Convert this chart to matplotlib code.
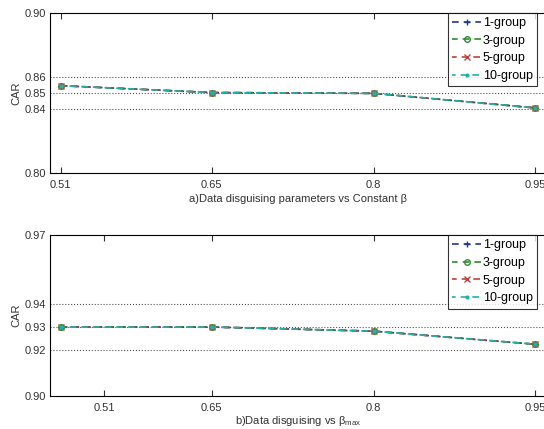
import matplotlib
matplotlib.use("Agg")
import matplotlib.pyplot as plt

plt.rcParams['font.family'] = ['Liberation Sans', 'DejaVu Sans']
plt.rcParams['mathtext.fontset'] = 'custom'
plt.rcParams['mathtext.rm'] = 'Liberation Sans'
plt.rcParams['mathtext.it'] = 'Liberation Sans'

x_vals = [0.51, 0.65, 0.8, 0.95]
groups = ['1-group', '3-group', '5-group', '10-group']
colors = ['#25358c', '#2f8a2f', '#c0403c', '#1fb3a8']
markers = ['+', 'o', 'x', '.']

# panel a: data disguising parameters vs constant beta
car_a = {
    '1-group': [0.8545, 0.8502, 0.8497, 0.8406],
    '3-group': [0.8545, 0.8502, 0.8497, 0.8406],
    '5-group': [0.8545, 0.8502, 0.8497, 0.8406],
    '10-group': [0.8545, 0.8502, 0.8497, 0.8406],
}
# panel b: data disguising vs beta_max
car_b = {
    '1-group': [0.930, 0.930, 0.9282, 0.9225],
    '3-group': [0.930, 0.930, 0.9282, 0.9225],
    '5-group': [0.930, 0.930, 0.9282, 0.9225],
    '10-group': [0.930, 0.930, 0.9282, 0.9225],
}
yticks_a = [0.80, 0.84, 0.85, 0.86, 0.90]
yticks_b = [0.90, 0.92, 0.93, 0.94, 0.97]
xticks_a = [0.51, 0.65, 0.8, 0.95]
xticklabels_a = ['0.51', '0.65', '0.8', '0.95']
xticks_b = [0.55, 0.65, 0.8, 0.95]
xticklabels_b = ['0.51', '0.65', '0.8', '0.95']

fig = plt.figure(figsize=(5.44, 4.29), dpi=100)
ax1 = fig.add_axes([0.092, 0.597, 0.912, 0.373])
ax2 = fig.add_axes([0.092, 0.077, 0.912, 0.375])

def draw(ax, data, yticks, ylim, xticks, xlabels, xlabel, lpad):
    for i, (g, c, m) in enumerate(zip(groups, colors, markers)):
        ax.plot(x_vals, data[g], linestyle=(i * 0.6, (4, 3)), color=c, marker=m,
                markersize=4, linewidth=1.2,
                markerfacecolor='none' if m == 'o' else c, label=g)
    ax.set_xlim(0.5, 0.96)
    ax.set_ylim(*ylim)
    ax.set_yticks(yticks)
    ax.set_yticklabels(['%.2f' % v for v in yticks])
    ax.set_xticks(xticks)
    ax.set_xticklabels(xlabels)
    for v in yticks[1:-1]:
        ax.axhline(v, color='#555555', linestyle=':', linewidth=0.8, zorder=0)
    ax.tick_params(axis='x', direction='in', top=True, length=4, labelsize=8,
                   colors='#333333', pad=5)
    ax.tick_params(axis='y', direction='in', length=0, labelsize=8,
                   colors='#333333', pad=3)
    ax.set_ylabel('CAR', fontsize=8, color='#333333', labelpad=2)
    ax.set_xlabel(xlabel, fontsize=8, color='#333333', labelpad=lpad)
    for s in ax.spines.values():
        s.set_linewidth(0.8)
    leg = ax.legend(loc='upper right', frameon=True, fancybox=False,
                    prop={'family': ['Liberation Sans Narrow', 'Liberation Sans'], 'size': 9},
                    handlelength=2.3, borderpad=0.35, labelspacing=0.45,
                    handletextpad=0.15, borderaxespad=0.0,
                    bbox_to_anchor=(0.982, 1.0))
    leg.get_frame().set_edgecolor('black')
    leg.get_frame().set_linewidth(0.8)

draw(ax1, car_a, yticks_a, (0.80, 0.90), xticks_a, xticklabels_a,
     'a)Data disguising parameters vs Constant β', 3)
draw(ax2, car_b, yticks_b, (0.90, 0.97), xticks_b, xticklabels_b,
     r'b)Data disguising vs $\beta_{max}$', 0.5)

fig.savefig('out.png', dpi=100)
